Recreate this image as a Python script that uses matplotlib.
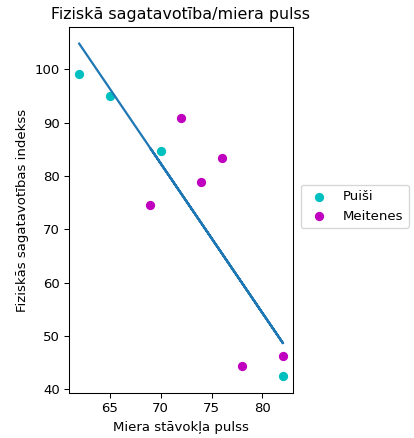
import matplotlib
matplotlib.use("Agg")
import matplotlib.pyplot as plt
import numpy as np

# resting pulse vs fitness index
boys_pulse = [62, 65, 70, 82]
boys_index = [99.2, 95.0, 84.6, 42.4]
girls_pulse = [69, 72, 74, 76, 78, 82]
girls_index = [74.5, 90.9, 78.9, 83.3, 44.4, 46.2]

all_pulse = np.array(boys_pulse + girls_pulse)
all_index = np.array(boys_index + girls_index)
slope, intercept = np.polyfit(all_pulse, all_index, 1)

DPI = 95
fig = plt.figure(figsize=(414 / DPI, 438 / DPI), dpi=DPI)
ax = fig.add_axes([69 / 414, 45 / 438, 224 / 414, 366 / 438])

ax.scatter(boys_pulse, boys_index, color="c", label="Puiši")
ax.scatter(girls_pulse, girls_index, color="m", label="Meitenes")
ax.plot(all_pulse, slope * all_pulse + intercept, linewidth=1.7)

ax.set_title("Fiziskā sagatavotība/miera pulss")
ax.set_xlabel("Miera stāvokļa pulss")
ax.set_ylabel("Fiziskās sagatavotības indekss")
ax.legend(loc="center left", bbox_to_anchor=(1.005, 0.51))

fig.savefig("out.png", dpi=DPI)
